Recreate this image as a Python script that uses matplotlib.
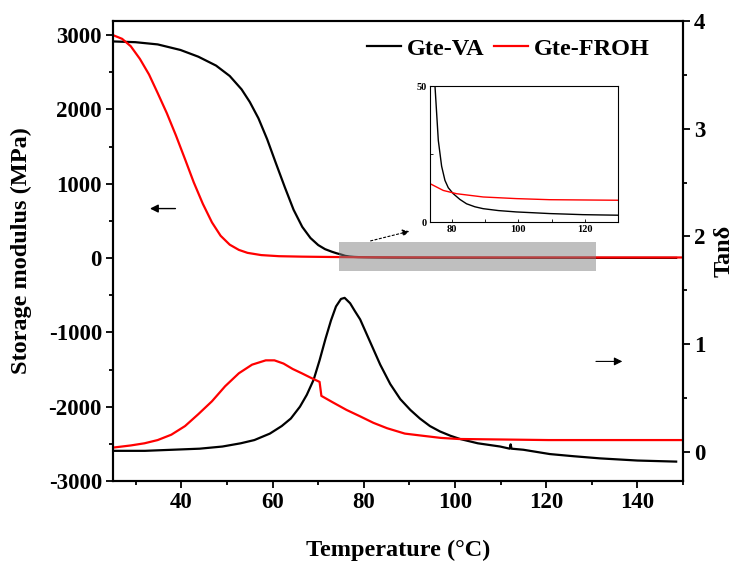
import matplotlib
matplotlib.use("Agg")
import matplotlib.pyplot as plt
from matplotlib.ticker import MultipleLocator
from matplotlib.patches import Rectangle

plt.rcParams['font.family'] = ['Liberation Serif', 'DejaVu Serif']
plt.rcParams['font.weight'] = 'bold'

# Storage modulus (MPa) vs temperature (°C)
t_mod_va = [25, 29.9, 34.8, 39.8, 43.7, 47.6, 50.6, 53.2, 55.0, 56.9, 58.8, 60.7, 62.7,
            64.6, 66.5, 68.3, 70.0, 71.5, 73.0, 74.0, 74.9, 75.9, 76.9, 77.9, 78.9,
            80.4, 82.4, 84.4, 86.9, 89.4, 94.0, 99.4, 104.5, 109.4, 114.5, 119.4,
            124.5, 129.9, 140, 148.5]
mod_va = [2915, 2905, 2875, 2800, 2710, 2590, 2450, 2270, 2100, 1880, 1600, 1280, 950,
          650, 420, 270, 175, 120, 85, 65, 50, 30, 20.5, 15.3, 12.6, 10.4, 8.3, 6.7,
          5.6, 4.9, 4.2, 3.7, 3.4, 3.1, 2.9, 2.7, 2.6, 2.5, 2.3, 2.2]

t_mod_froh = [25, 27, 28.9, 30.9, 32.9, 34.8, 36.8, 38.8, 40.8, 42.7, 44.7, 46.7, 48.6,
              50.6, 52.6, 54.5, 57.5, 61.4, 66.4, 70.5, 73.4, 77.4, 81.4, 89.4, 99.4,
              109.4, 119.5, 129.9, 150]
mod_froh = [3000, 2950, 2850, 2680, 2470, 2220, 1950, 1650, 1330, 1020, 730, 480, 300,
            180, 110, 70, 40, 25, 19, 16, 14.1, 11.6, 10.4, 9.2, 8.6, 8.2, 8.1, 8.0, 7.9]

# Loss factor tan(delta) vs temperature (°C)
t_tan_va = [25, 32, 38, 44, 49, 53, 56, 59.4, 62, 64, 66, 67.5, 69, 70.3, 71.6, 72.8,
            73.9, 75.0, 75.8, 77.0, 78.0, 79.2, 81.4, 83.6, 85.8, 88.0, 90.2,
            92.3, 94.5, 96.7, 99.0, 101.1, 105.0, 109.9, 112.0, 112.2, 112.4, 115.0,
            120.8, 126.0, 131.8, 140.0, 148.5]
tan_va = [0.01, 0.01, 0.02, 0.03, 0.05, 0.08, 0.11, 0.17, 0.24, 0.31, 0.42, 0.53, 0.67,
          0.85, 1.05, 1.22, 1.35, 1.42, 1.43, 1.38, 1.31, 1.23, 1.02, 0.81, 0.63, 0.49,
          0.39, 0.31, 0.24, 0.19, 0.15, 0.12, 0.08, 0.05, 0.03, 0.07, 0.03, 0.02,
          -0.02, -0.04, -0.06, -0.08, -0.09]

t_tan_froh = [25, 28.9, 31.9, 34.8, 37.8, 40.8, 43.7, 46.7, 49.6, 52.6, 55.5, 58.5,
              60.4, 62.4, 64.4, 66.4, 68.3, 70.3, 70.7, 73.2, 76.2, 79.2, 82.1, 85.1,
              89.0, 92.9, 96.9, 100.8, 110.7, 120.5, 130.4, 140.2, 150]
tan_froh = [0.04, 0.06, 0.08, 0.11, 0.16, 0.24, 0.35, 0.47, 0.61, 0.73, 0.81, 0.85,
            0.85, 0.82, 0.77, 0.73, 0.69, 0.65, 0.52, 0.46, 0.39, 0.33, 0.27, 0.22,
            0.17, 0.15, 0.13, 0.12, 0.115, 0.11, 0.11, 0.11, 0.11]

labels = ['Gte-VA', 'Gte-FROH']
colors = ['black', 'red']

fig = plt.figure(figsize=(7.4, 5.63), dpi=100)
ax = fig.add_axes([113/740, 1-481/563, 570/740, 460/563])
ax2 = ax.twinx()

ax.plot(t_mod_va, mod_va, color=colors[0], lw=1.6, label=labels[0])
ax.plot(t_mod_froh, mod_froh, color=colors[1], lw=1.6, label=labels[1])
ax2.plot(t_tan_va, tan_va, color=colors[0], lw=1.6)
ax2.plot(t_tan_froh, tan_froh, color=colors[1], lw=1.6)

ax.set_xlim(25, 150)
ax2.set_ylim(-0.27, 4.0)

fs_tick = 16.5
fs_lab = 17.5
ax.xaxis.set_major_locator(MultipleLocator(20))
ax.xaxis.set_minor_locator(MultipleLocator(10))
ax.yaxis.set_minor_locator(MultipleLocator(500))
ax2.yaxis.set_major_locator(MultipleLocator(1))
ax2.yaxis.set_minor_locator(MultipleLocator(0.5))
for a in (ax, ax2):
    a.tick_params(which='major', direction='out', length=5, width=1.3,
                  labelsize=fs_tick, pad=3)
    a.tick_params(which='minor', direction='out', length=3, width=1.3)
    for s in a.spines.values():
        s.set_linewidth(1.5)
ax.tick_params(axis='x', which='both', top=False)
yticks = list(range(-3000, 3001, 1000))
ax.set_yticks(yticks)
ax.set_yticklabels([str(v) for v in yticks])
ax.set_ylim(-3000, 3190)
ax.set_xlabel('Temperature (°C)', fontsize=fs_lab, fontweight='bold', labelpad=19)
ax.set_ylabel('Storage modulus (MPa)', fontsize=fs_lab, fontweight='bold', labelpad=12)
ax2.set_ylabel('Tanδ', fontsize=fs_lab, fontweight='bold', labelpad=6)

leg = ax.legend(loc='upper right', frameon=False, fontsize=17.5, ncol=2,
                handlelength=1.4, handletextpad=0.25, columnspacing=0.37,
                borderaxespad=0.2, bbox_to_anchor=(0.967, 0.995))

# Highlighted high-temperature region of the modulus curves
ax.add_patch(Rectangle((74.6, -180), 56.3, 400, facecolor='#808080', alpha=0.5,
                       edgecolor='none', zorder=5))

# Direction arrows pointing to the relevant axes
ax.annotate('', xy=(32.5, 666), xytext=(39.3, 666),
            arrowprops=dict(arrowstyle='-|>', color='black', lw=1.0,
                            mutation_scale=12))
ax2.annotate('', xy=(137.3, 0.84), xytext=(130.3, 0.84),
             arrowprops=dict(arrowstyle='-|>', color='black', lw=0.8,
                             mutation_scale=12))
ax.annotate('', xy=(90.6, 370), xytext=(80.9, 222),
            arrowprops=dict(arrowstyle='-|>', color='black', lw=0.8,
                            linestyle=(0, (2, 2)), mutation_scale=10))

# Inset: zoom on the rubbery plateau
axin = fig.add_axes([430/740, 1-222/563, 188/740, 136/563])
axin.plot(t_mod_va, mod_va, color=colors[0], lw=1.0)
axin.plot(t_mod_froh, mod_froh, color=colors[1], lw=1.0)
axin.set_xlim(73.4, 130)
axin.set_ylim(0, 50)
axin.xaxis.set_major_locator(MultipleLocator(20))
axin.xaxis.set_minor_locator(MultipleLocator(10))
axin.yaxis.set_major_locator(MultipleLocator(50))
axin.yaxis.set_minor_locator(MultipleLocator(25))
axin.tick_params(which='both', direction='in', labelsize=7.5, length=2, width=0.6, pad=2)
for s in axin.spines.values():
    s.set_linewidth(0.8)

fig.savefig('out.png', dpi=100)
